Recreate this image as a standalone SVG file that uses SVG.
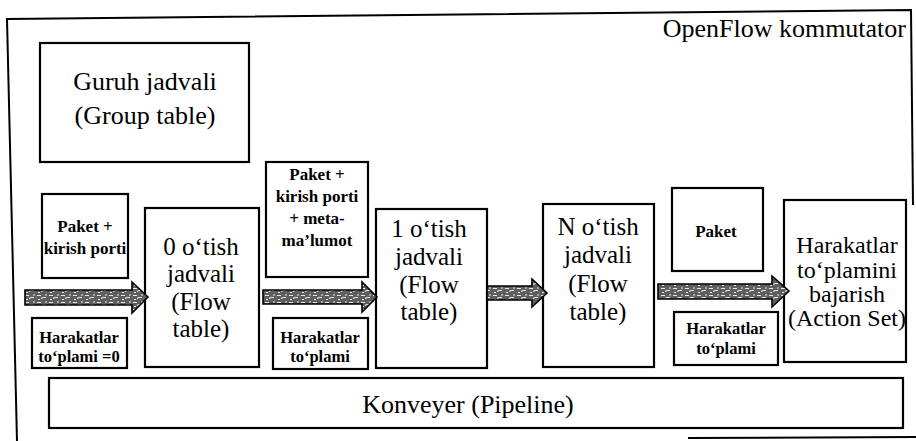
<svg xmlns="http://www.w3.org/2000/svg" width="916" height="441" viewBox="0 0 916 441">
  <style>
    .box { fill: #fff; stroke: #000; stroke-width: 2.2; }
    .frame { fill: none; stroke: #000; stroke-width: 2; }
    .big { font-family: "Liberation Serif", "Times New Roman", serif; font-size: 25px; fill: #000; text-anchor: middle; }
    .mid { font-family: "Liberation Serif", "Times New Roman", serif; font-size: 24px; fill: #000; text-anchor: middle; }
    .title { font-family: "Liberation Serif", "Times New Roman", serif; font-size: 26px; fill: #000; }
    .small { font-family: "Liberation Serif", "Times New Roman", serif; font-size: 17px; font-weight: bold; fill: #000; text-anchor: middle; }
    .tiny { font-family: "Liberation Serif", "Times New Roman", serif; font-size: 16.5px; font-weight: bold; fill: #000; text-anchor: middle; }
    .arrow { fill: url(#grain); stroke: #000; stroke-width: 1.6; stroke-linejoin: miter; }
  </style>
  <defs>
    <!-- speckled grey fill for the block arrows -->
    <pattern id="grain" width="12" height="7" patternUnits="userSpaceOnUse">
      <rect width="12" height="7" fill="#5e5e5e"/>
      <path d="M1 1.5h4M7 3.5h3M2 5.5h2M9 1h2M5 4.5l2 -1" stroke="#e8e8e8" stroke-width="1.1"/>
    </pattern>
  </defs>

  <!-- switch outline -->
  <g id="switch-frame">
    <path class="frame" d="M17,441 L7,19 L911,10 L913,205"/>
    <path class="frame" d="M688,438 L916,437"/>
    <text class="title" x="906" y="37" text-anchor="end">OpenFlow kommutator</text>
  </g>

  <g id="group-table">
    <rect class="box" x="40" y="43" width="209" height="119"/>
    <text class="title" x="145" y="90" text-anchor="middle">Guruh jadvali</text>
    <text class="title" x="145" y="124" text-anchor="middle">(Group table)</text>
  </g>

  <g id="packet-in">
    <rect class="box" x="42" y="194" width="86" height="84"/>
    <text class="small" x="85" y="232">Paket +</text>
    <text class="small" x="85" y="254">kirish porti</text>
  </g>

  <g id="actions-zero">
    <rect class="box" x="32" y="318" width="95" height="50"/>
    <text class="tiny" x="79" y="343">Harakatlar</text>
    <text class="tiny" x="79" y="362">to‘plami =0</text>
  </g>

  <g id="flow-table-0">
    <rect class="box" x="145" y="208" width="114" height="159"/>
    <text class="big" x="201" y="255">0 o‘tish</text>
    <text class="big" x="201" y="282">jadvali</text>
    <text class="big" x="201" y="310">(Flow</text>
    <text class="big" x="201" y="337">table)</text>
  </g>

  <g id="packet-meta">
    <rect class="box" x="266" y="162" width="102" height="115"/>
    <text class="small" x="317" y="180">Paket +</text>
    <text class="small" x="317" y="202">kirish porti</text>
    <text class="small" x="317" y="224">+ meta-</text>
    <text class="small" x="317" y="246">ma’lumot</text>
  </g>

  <g id="actions-1">
    <rect class="box" x="273" y="318" width="95" height="51"/>
    <text class="tiny" x="320" y="343">Harakatlar</text>
    <text class="tiny" x="320" y="362">to‘plami</text>
  </g>

  <g id="flow-table-1">
    <rect class="box" x="376" y="209" width="111" height="159"/>
    <text class="big" x="429" y="237">1 o‘tish</text>
    <text class="big" x="429" y="265">jadvali</text>
    <text class="big" x="429" y="293">(Flow</text>
    <text class="big" x="429" y="320">table)</text>
  </g>

  <g id="flow-table-n">
    <rect class="box" x="543" y="204" width="111" height="163"/>
    <text class="big" x="598" y="235">N o‘tish</text>
    <text class="big" x="598" y="263">jadvali</text>
    <text class="big" x="598" y="292">(Flow</text>
    <text class="big" x="598" y="320">table)</text>
  </g>

  <g id="packet-out">
    <rect class="box" x="672" y="188" width="91" height="83"/>
    <text class="small" x="716" y="237">Paket</text>
  </g>

  <g id="actions-n">
    <rect class="box" x="674" y="312" width="104" height="53"/>
    <text class="tiny" x="726" y="334">Harakatlar</text>
    <text class="tiny" x="726" y="354">to‘plami</text>
  </g>

  <g id="action-set">
    <rect class="box" x="784" y="200" width="122" height="162"/>
    <text class="mid" x="847" y="253">Harakatlar</text>
    <text class="mid" x="847" y="278">to‘plamini</text>
    <text class="mid" x="847" y="302">bajarish</text>
    <text class="mid" x="847" y="326">(Action Set)</text>
  </g>

  <g id="pipeline">
    <rect class="box" x="49" y="378" width="854" height="50"/>
    <text class="title" x="468" y="413" text-anchor="middle">Konveyer (Pipeline)</text>
  </g>

  <!-- block arrows between pipeline stages -->
  <g id="connectors">
    <path class="arrow" d="M25,290 H132 V282 L148,297 L132,313 V305 H25 Z"/>
    <path class="arrow" d="M263,290 H362 V282 L377,297 L362,312 V304 H263 Z"/>
    <path class="arrow" d="M487,286 H532 V279 L547,293 L532,307 V300 H487 Z"/>
    <path class="arrow" d="M658,284 H772 V276 L789,291 L772,307 V299 H658 Z"/>
  </g>
</svg>
